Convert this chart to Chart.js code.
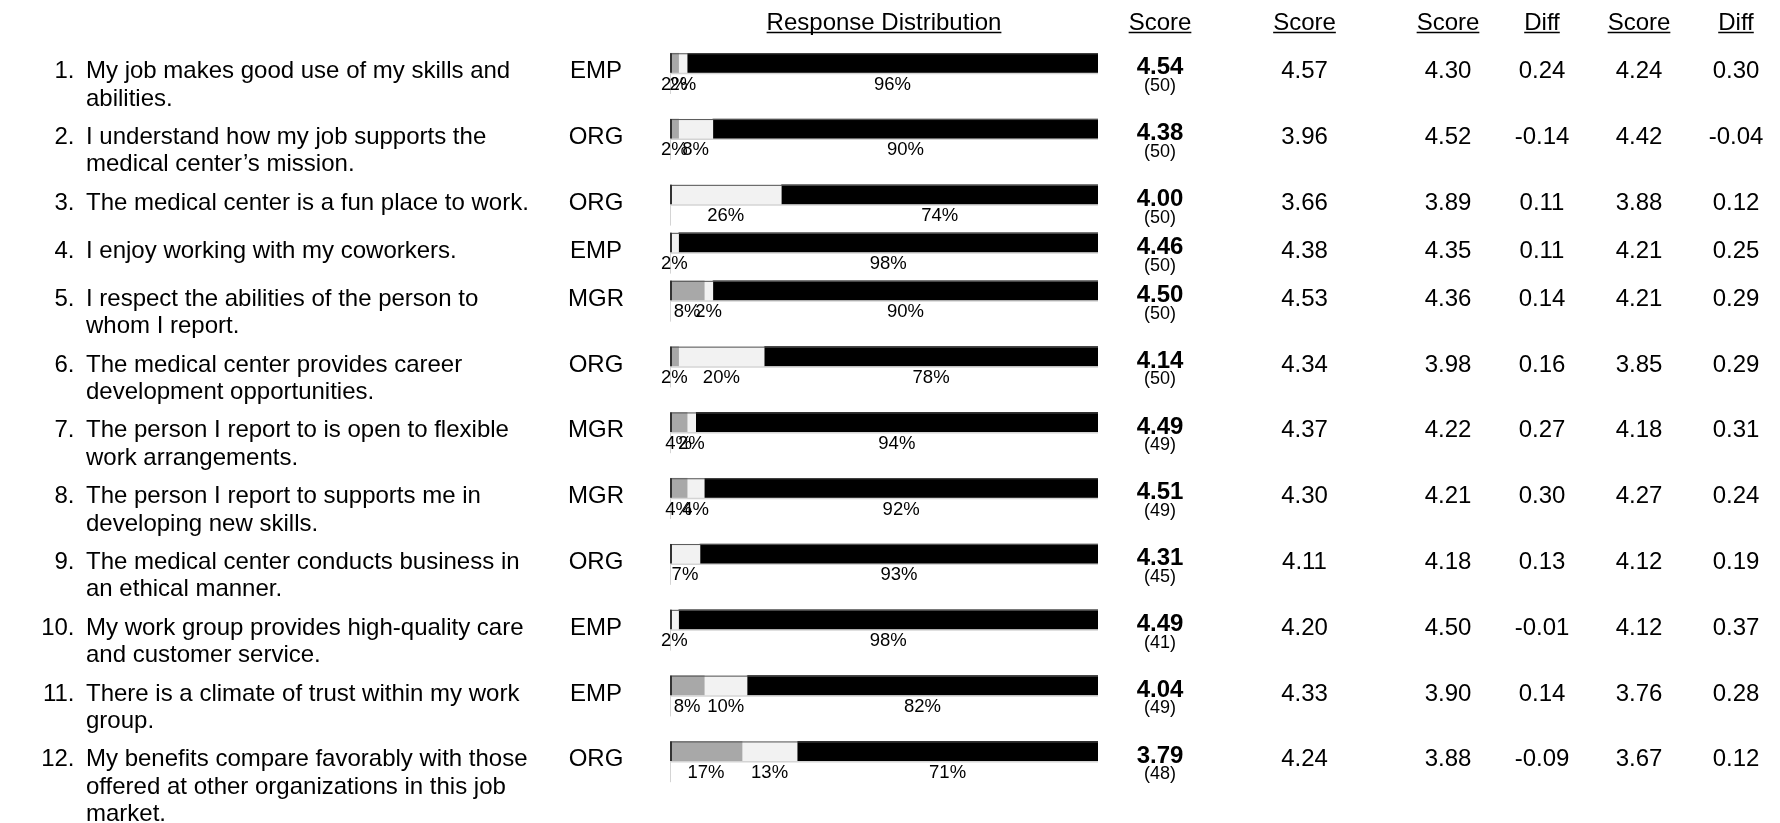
<!DOCTYPE html>
<html>
<head>
<meta charset="utf-8">
<script src="https://cdn.jsdelivr.net/npm/chart.js@4.4.1/dist/chart.umd.min.js"></script>
<style>
  html, body { margin: 0; padding: 0; background: #fff; }
  #wrap { width: 1780px; height: 823px; position: relative; }
</style>
</head>
<body>
<div id="wrap"><canvas id="c" width="1780" height="823"></canvas></div>
<script>
// ---------------- DATA ----------------
const questions = [
  ["My job makes good use of my skills and", "abilities."],
  ["I understand how my job supports the", "medical center\u2019s mission."],
  ["The medical center is a fun place to work."],
  ["I enjoy working with my coworkers."],
  ["I respect the abilities of the person to", "whom I report."],
  ["The medical center provides career", "development opportunities."],
  ["The person I report to is open to flexible", "work arrangements."],
  ["The person I report to supports me in", "developing new skills."],
  ["The medical center conducts business in", "an ethical manner."],
  ["My work group provides high-quality care", "and customer service."],
  ["There is a climate of trust within my work", "group."],
  ["My benefits compare favorably with those", "offered at other organizations in this job", "market."]
];
const categories = ["EMP","ORG","ORG","EMP","MGR","ORG","MGR","MGR","ORG","EMP","EMP","ORG"];
const unfavorable = [2, 2, 0, 0, 8, 2, 4, 4, 0, 0, 8, 17];
const neutral     = [2, 8, 26, 2, 2, 20, 2, 4, 7, 2, 10, 13];
const favorable   = [96, 90, 74, 98, 90, 78, 94, 92, 93, 98, 82, 71];
const scores      = [4.54, 4.38, 4.00, 4.46, 4.50, 4.14, 4.49, 4.51, 4.31, 4.49, 4.04, 3.79];
const respondents = [50, 50, 50, 50, 50, 50, 49, 49, 45, 41, 49, 48];
const score2      = [4.57, 3.96, 3.66, 4.38, 4.53, 4.34, 4.37, 4.30, 4.11, 4.20, 4.33, 4.24];
const score3      = [4.30, 4.52, 3.89, 4.35, 4.36, 3.98, 4.22, 4.21, 4.18, 4.50, 3.90, 3.88];
const diff3       = [0.24, -0.14, 0.11, 0.11, 0.14, 0.16, 0.27, 0.30, 0.13, -0.01, 0.14, -0.09];
const score4      = [4.24, 4.42, 3.88, 4.21, 4.21, 3.85, 4.18, 4.27, 4.12, 4.12, 3.76, 3.67];
const diff4       = [0.30, -0.04, 0.12, 0.25, 0.29, 0.29, 0.31, 0.24, 0.19, 0.37, 0.28, 0.12];
const headers = ["Response Distribution", "Score", "Score", "Score", "Diff", "Score", "Diff"];

// ---------------- LAYOUT ----------------
const FONT = '"Liberation Sans", Arial, Helvetica, sans-serif';
const LINE_H = 27.9;
const TEXT_LH = 27.4;
const rowHeights = questions.map(q => Math.max(q.length * LINE_H, 38) + 10);
const rowCenters = [];
(function(){ let t = 0; rowHeights.forEach(h => { rowCenters.push(t + 24); t += h; }); })();
const Y_MAX = 784;
const COLORS = ["#a8a8a8", "#f2f2f2", "#000000"];
const segs = [unfavorable, neutral, favorable];

function segRanges(k) {
  return rowCenters.map((y, i) => {
    const tot = unfavorable[i] + neutral[i] + favorable[i];
    let s = 0;
    for (let j = 0; j < k; j++) s += segs[j][i];
    const v = segs[k][i];
    if (!v) return null;
    return { x: [s / tot * 100, (s + v) / tot * 100], y: y };
  }).filter(d => d);
}

const COL = { num: 74.5, text: 86, cat: 596, score: 1160, s2: 1304.5, s3: 1448, d3: 1542, s4: 1639, d4: 1736 };

const tablePlugin = {
  id: 'tablePlugin',
  afterDatasetsDraw(chart) {
    const ctx = chart.ctx;
    const xs = chart.scales.x, ys = chart.scales.y;
    const x0 = xs.getPixelForValue(0), x100 = xs.getPixelForValue(100);
    ctx.save();
    // headers
    ctx.fillStyle = "#000";
    ctx.strokeStyle = "#000";
    ctx.font = "24px " + FONT;
    ctx.textAlign = "center";
    ctx.textBaseline = "alphabetic";
    const hx = [(x0 + x100) / 2, COL.score, COL.s2, COL.s3, COL.d3, COL.s4, COL.d4];
    headers.forEach((h, i) => {
      ctx.fillText(h, hx[i], 30);
      const w = ctx.measureText(h).width;
      ctx.lineWidth = 1.5;
      ctx.beginPath();
      ctx.moveTo(hx[i] - w / 2, 32.5);
      ctx.lineTo(hx[i] + w / 2, 32.5);
      ctx.stroke();
    });

    rowCenters.forEach((rc, i) => {
      const yC = ys.getPixelForValue(rc);
      // bar decorations
      ctx.lineWidth = 1;
      ctx.strokeStyle = "#d4d4d4";
      ctx.beginPath();
      ctx.moveTo(x0 + 0.5, yC - 10);
      ctx.lineTo(x0 + 0.5, yC + 31);
      ctx.stroke();
      ctx.lineWidth = 1.5;
      ctx.beginPath();
      ctx.moveTo(x0, yC + 10.5);
      ctx.lineTo(x100, yC + 10.5);
      ctx.stroke();
      ctx.strokeStyle = "#555";
      ctx.lineWidth = 1;
      ctx.beginPath();
      ctx.moveTo(x0, yC - 9.25);
      ctx.lineTo(x100, yC - 9.25);
      ctx.stroke();
      ctx.strokeStyle = "#333";
      ctx.lineWidth = 2;
      ctx.beginPath();
      ctx.moveTo(x0 + 1, yC - 9.75);
      ctx.lineTo(x0 + 1, yC + 9.75);
      ctx.stroke();

      // percent labels
      ctx.fillStyle = "#000";
      ctx.font = "18.5px " + FONT;
      ctx.textAlign = "center";
      const tot = unfavorable[i] + neutral[i] + favorable[i];
      let s = 0;
      segs.forEach(arr => {
        const v = arr[i];
        if (v) {
          const cx = xs.getPixelForValue((s + v / 2) / tot * 100);
          ctx.fillText(v + "%", cx, yC + 26.5);
        }
        s += v;
      });

      // question number and text
      const base = yC + 15.2;
      ctx.font = "24px " + FONT;
      ctx.textAlign = "right";
      ctx.fillText((i + 1) + ".", COL.num, base);
      ctx.textAlign = "left";
      questions[i].forEach((ln, k) => ctx.fillText(ln, COL.text, base + k * TEXT_LH));
      // category
      ctx.textAlign = "center";
      ctx.fillText(categories[i], COL.cat, base);
      // score
      ctx.font = "bold 24px " + FONT;
      ctx.fillText(scores[i].toFixed(2), COL.score, yC + 11.4);
      ctx.font = "18px " + FONT;
      ctx.fillText("(" + respondents[i] + ")", COL.score, yC + 28);
      ctx.font = "24px " + FONT;
      ctx.fillText(score2[i].toFixed(2), COL.s2, base);
      ctx.fillText(score3[i].toFixed(2), COL.s3, base);
      ctx.fillText(diff3[i].toFixed(2), COL.d3, base);
      ctx.fillText(score4[i].toFixed(2), COL.s4, base);
      ctx.fillText(diff4[i].toFixed(2), COL.d4, base);
    });
    ctx.restore();
  }
};

new Chart(document.getElementById('c'), {
  type: 'bar',
  data: {
    datasets: segs.map((arr, k) => ({
      label: ["Unfavorable", "Neutral", "Favorable"][k],
      data: segRanges(k),
      backgroundColor: COLORS[k],
      borderWidth: 0,
      barThickness: 19.5,
      grouped: false
    }))
  },
  options: {
    indexAxis: 'y',
    responsive: false,
    animation: false,
    events: [],
    layout: { padding: { left: 670, right: 682, top: 39, bottom: 0 } },
    scales: {
      x: { type: 'linear', min: 0, max: 100, display: false, offset: false },
      y: { type: 'linear', min: 0, max: Y_MAX, reverse: true, display: false, offset: false }
    },
    plugins: { legend: { display: false }, tooltip: { enabled: false } }
  },
  plugins: [tablePlugin]
});
</script>
</body>
</html>
